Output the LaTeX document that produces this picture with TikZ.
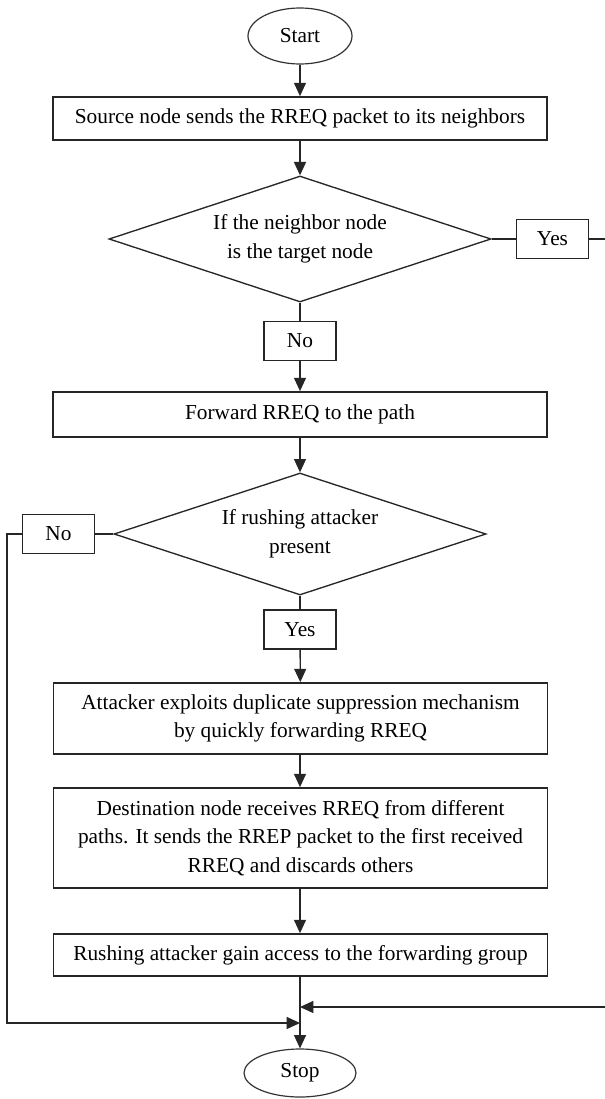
\documentclass[tikz,border=0pt]{standalone}
\usepackage{fontspec}
\setmainfont{Liberation Serif}
\usetikzlibrary{shapes.geometric,arrows.meta}
\begin{document}
\begin{tikzpicture}[x=0.75pt,y=-0.75pt,
  every node/.style={font=\fontsize{16pt}{21.5pt}\selectfont, align=center},
  proc/.style={draw=black!85, line width=1.3pt, rectangle, inner sep=0pt, minimum width=370.5pt},
  lbl/.style={draw=black!85, line width=1.2pt, rectangle, inner sep=0pt, minimum width=54pt, minimum height=29pt},
  term/.style={draw=black!80, line width=0.9pt, ellipse, inner sep=0pt},
  dec/.style={draw=black!85, line width=1pt, diamond, inner sep=0pt, aspect=3},
  conn/.style={line width=1pt, draw=black!85},
  arr/.style={conn, -{Triangle[width=9pt,length=10pt]}},
]
\useasboundingbox (0,0) rectangle (605,1099);

\node[term, minimum width=78pt, minimum height=42pt] (start) at (300,36) {Start};
\node[proc, minimum height=32.25pt] (b1) at (300,118.5) {Source node sends the RREQ packet to its neighbors};
\node[dec, minimum width=286.5pt, minimum height=94.5pt] (d1) at (300,239) {If the neighbor node\\is the target node};
\node[lbl] (yes1) at (552.5,239) {Yes};
\node[lbl] (no1) at (300,341) {No};
\node[proc, minimum height=33.75pt] (b2) at (300,414.5) {Forward RREQ to the path};
\node[dec, minimum width=279pt, minimum height=91.5pt] (d2) at (300,534) {If rushing attacker\\present};
\node[lbl] (no2) at (58.5,534) {No};
\node[lbl] (yes2) at (300,629.5) {Yes};
\node[proc, minimum height=53.25pt] (b3) at (300.5,718.5) {Attacker exploits duplicate suppression mechanism\\by quickly forwarding RREQ};
\node[proc, minimum height=75pt] (b4) at (300.5,838) {Destination node receives RREQ from different\\paths. It sends the RREP packet to the first received\\RREQ and discards others};
\node[proc, minimum height=31.5pt] (b5) at (300.5,955) {Rushing attacker gain access to the forwarding group};
\node[term, minimum width=84pt, minimum height=36pt] (stop) at (300,1073) {Stop};

\coordinate (jR) at (300,1007);
\coordinate (jL) at (300,1023);
\coordinate (rEdge) at (609,239);
\coordinate (lEdge) at (7,534);

\draw[arr] (start) -- (b1);
\draw[arr] (b1) -- (d1);
\draw[conn] (d1.east) -- (yes1.west);
\draw[arr] (yes1.east) -- (rEdge) |- (jR);
\draw[conn] (d1.south) -- (no1.north);
\draw[arr] (no1) -- (b2);
\draw[arr] (b2) -- (d2);
\draw[conn] (d2.west) -- (no2.east);
\draw[arr] (no2.west) -- (lEdge) |- (jL);
\draw[conn] (d2.south) -- (yes2.north);
\draw[arr] (yes2) -- (b3);
\draw[arr] (b3.south -| yes2) -- (b4.north -| yes2);
\draw[arr] (b4.south -| yes2) -- (b5.north -| yes2);
\draw[arr] (b5.south -| stop) -- (stop.north);
\end{tikzpicture}
\end{document}
